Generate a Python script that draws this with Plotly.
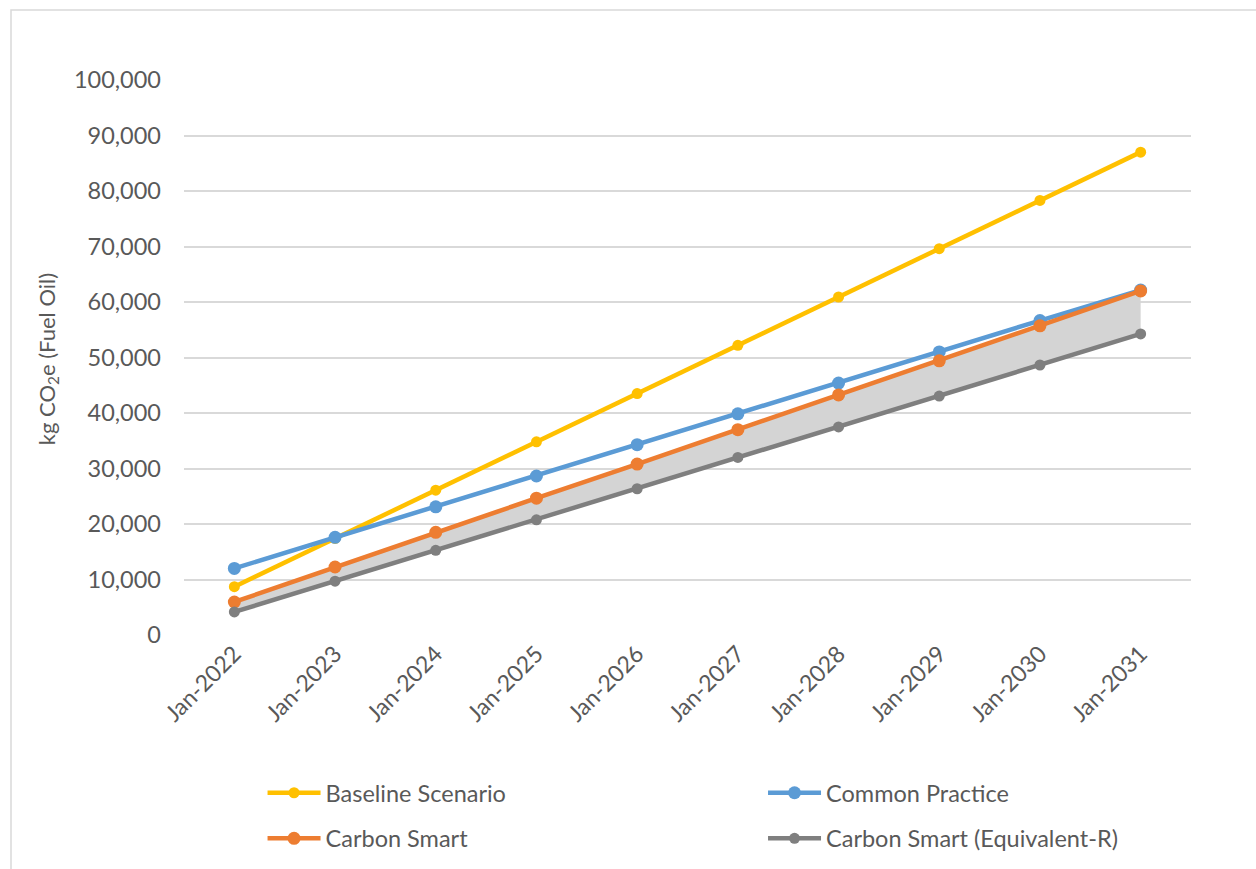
import plotly.graph_objects as go

categories = ["Jan-2022", "Jan-2023", "Jan-2024", "Jan-2025", "Jan-2026",
              "Jan-2027", "Jan-2028", "Jan-2029", "Jan-2030", "Jan-2031"]
baseline = [8700, 17400, 26100, 34800, 43500, 52200, 60900, 69600, 78300, 87000]
common_practice = [12000, 17600, 23100, 28650, 34300, 39850, 45400, 51000, 56650, 62150]
carbon_smart = [5950, 12250, 18500, 24650, 30800, 37000, 43250, 49400, 55700, 62000]
carbon_smart_eqr = [4150, 9700, 15250, 20750, 26350, 32000, 37500, 43050, 48650, 54250]
y_ticks = [0, 10000, 20000, 30000, 40000, 50000, 60000, 70000, 80000, 90000, 100000]

FONT = "Lato, Carlito, 'Open Sans', sans-serif"
TXT = "#595959"

fig = go.Figure()

# shaded band between Carbon Smart and Equivalent-R
fig.add_trace(go.Scatter(x=categories, y=carbon_smart_eqr, mode="lines",
                         line=dict(width=0, color="rgba(0,0,0,0)"),
                         showlegend=False, hoverinfo="skip"))
fig.add_trace(go.Scatter(x=categories, y=carbon_smart, mode="lines",
                         line=dict(width=0, color="rgba(0,0,0,0)"),
                         fill="tonexty", fillcolor="#d4d4d4",
                         showlegend=False, hoverinfo="skip"))

series = [
    ("Baseline Scenario", baseline, "#FFC000", 11, "legend", "g1"),
    ("Common Practice", common_practice, "#5B9BD5", 13, "legend2", "g2"),
    ("Carbon Smart", carbon_smart, "#ED7D31", 13, "legend", "g3"),
    ("Carbon Smart (Equivalent-R)", carbon_smart_eqr, "#7F7F7F", 11, "legend2", "g4"),
]
for name, vals, color, msize, leg, grp in series:
    fig.add_trace(go.Scatter(x=categories, y=vals, name=name, mode="lines+markers",
                             line=dict(color=color, width=4.5),
                             marker=dict(color=color, size=msize),
                             legend=leg, legendgroup=grp))

fig.add_shape(type="rect", xref="paper", yref="paper",
              x0=-0.1718, x1=1.10, y0=-0.46, y1=1.126,
              line=dict(color="#d9d9d9", width=1.5), fillcolor="rgba(0,0,0,0)", layer="below")

fig.add_annotation(text="kg CO<sub>2</sub>e (Fuel Oil)", xref="paper", yref="paper",
                   x=-0.135, y=0.497, textangle=-90, showarrow=False,
                   xanchor="center", yanchor="middle",
                   font=dict(family=FONT, size=22, color=TXT))

legend_common = dict(orientation="v", font=dict(family=FONT, size=23.5, color=TXT),
                     bgcolor="rgba(0,0,0,0)", tracegroupgap=12,
                     xanchor="left", yanchor="top", itemwidth=53)

fig.update_layout(
    width=1256, height=869,
    margin=dict(l=184, r=65, t=80, b=234, autoexpand=False),
    paper_bgcolor="white", plot_bgcolor="white",
    font=dict(family=FONT, color=TXT),
    xaxis=dict(type="category", tickangle=-45, showgrid=False, showline=False,
               ticks="", tickfont=dict(family=FONT, size=23, color=TXT),
               range=[-0.5, 9.5], zeroline=False, automargin=False),
    yaxis=dict(range=[0, 100000], tickvals=y_ticks, tickformat=",d",
               showgrid=True, gridcolor="#d9d9d9", gridwidth=1.5,
               zeroline=False, showline=False, ticks="",
               tickfont=dict(family=FONT, size=23.5, color=TXT),
               ticklabelstandoff=22, automargin=False),
    legend=dict(x=0.078, y=-0.245, **legend_common),
    legend2=dict(x=0.575, y=-0.245, **legend_common),
)

fig.write_html("out.html")
